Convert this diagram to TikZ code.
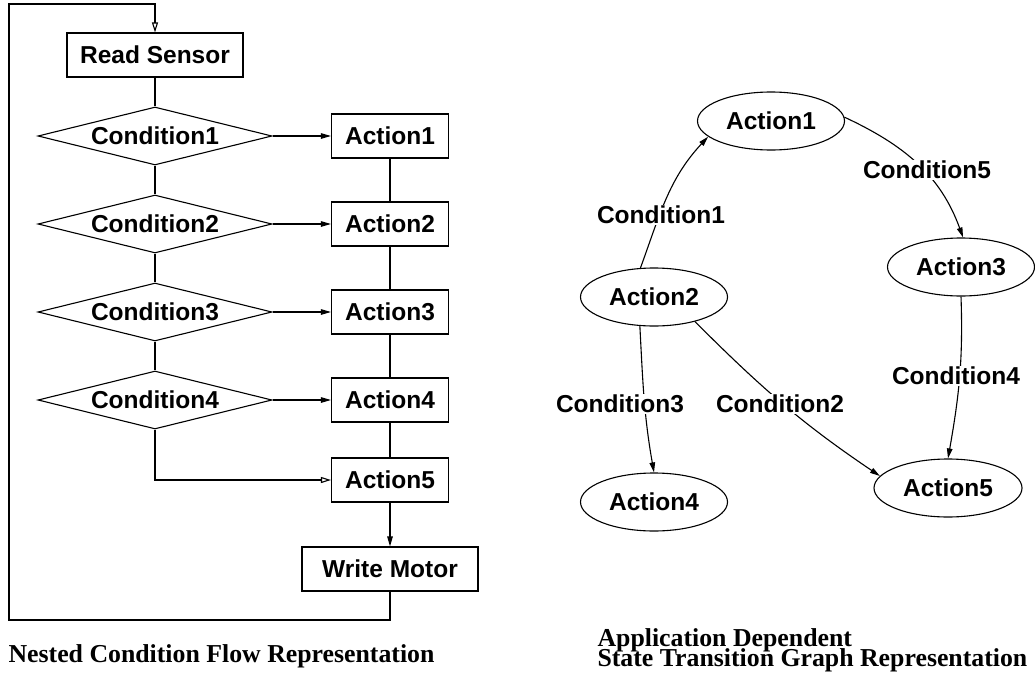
\documentclass[tikz,border=0pt]{standalone}
\usepackage{fontspec}
\setmainfont{Liberation Serif}
\setsansfont{Liberation Sans}
\usetikzlibrary{shapes.geometric,arrows.meta}
\begin{document}
\begin{tikzpicture}[x=1pt,y=1pt,
  line width=1.1pt,
  lbl/.style={font=\sffamily\bfseries\fontsize{24.5}{28}\selectfont},
  box/.style={lbl,draw,rectangle,inner sep=0pt,minimum height=44pt},
  cond/.style={lbl,draw,diamond,aspect=4,inner sep=0pt,minimum width=234pt,minimum height=58pt},
  state/.style={lbl,draw,ellipse,inner sep=0pt,minimum width=147pt,minimum height=58pt},
  tag/.style={lbl,fill=white,inner sep=1pt},
  fillarr/.style={-{Triangle[length=10pt,width=5.5pt]}},
  openarr/.style={-{Triangle[open,length=10pt,width=6pt]}},
  caption/.style={font=\rmfamily\bfseries\fontsize{25.8}{20}\selectfont,inner sep=0pt,anchor=base west}
]
\useasboundingbox (0,0) rectangle (1035,-677);

% ---- nested condition flow ----
\node[box,minimum width=176pt] (rs) at (155,-55) {Read Sensor};
\node[cond] (c1) at (155,-136) {Condition1};
\node[cond] (c2) at (155,-224) {Condition2};
\node[cond] (c3) at (155,-312) {Condition3};
\node[cond] (c4) at (155,-400) {Condition4};
\node[box,minimum width=117pt] (a1) at (390,-136) {Action1};
\node[box,minimum width=117pt] (a2) at (390,-224) {Action2};
\node[box,minimum width=117pt] (a3) at (390,-312) {Action3};
\node[box,minimum width=117pt] (a4) at (390,-400) {Action4};
\node[box,minimum width=117pt] (a5) at (390,-480) {Action5};
\node[box,minimum width=176pt] (wm) at (390,-569) {Write Motor};

\draw (rs) -- (c1);
\draw (c1) -- (c2);
\draw (c2) -- (c3);
\draw (c3) -- (c4);
\draw[fillarr] (c1) -- (a1);
\draw[fillarr] (c2) -- (a2);
\draw[fillarr] (c3) -- (a3);
\draw[fillarr] (c4) -- (a4);
\draw (a1) -- (a2);
\draw (a2) -- (a3);
\draw (a3) -- (a4);
\draw (a4) -- (a5);
\draw[fillarr] (a5) -- (wm);
\draw[openarr] (c4.south) |- (a5.west);

% feedback loop back to the sensor
\coordinate (lb) at (9,-620);
\coordinate (lt) at (9,-4);
\draw[openarr] (wm.south) |- (lb) -- (lt) -| (rs.north);

% ---- state transition graph ----
\node[state] (s1) at (771,-121) {Action1};
\node[state] (s2) at (654,-297) {Action2};
\node[state] (s3) at (961,-267) {Action3};
\node[state] (s4) at (654,-502) {Action4};
\node[state,minimum width=148pt] (s5) at (948,-488) {Action5};

\draw[fillarr] (s2.115) to[out=70,in=227] (s1.194);
\draw[fillarr] (s1.3) to[out=-25,in=110] (s3.86);
\draw[fillarr] (s3.south) to[out=-88,in=80] (s5.north);
\draw[fillarr] (s2.244) to[out=-87,in=100] (s4.north);
\draw[fillarr] (s2.329) to[out=-45,in=146] (s5.170);

\node[tag] (t1) at (661,-215) {Condition1};
\node[tag] (t5) at (927,-170) {Condition5};
\node[tag] (t4) at (956,-376) {Condition4};
\node[tag] (t3) at (620,-404) {Condition3};
\node[tag] (t2) at (780,-404) {Condition2};

% ---- captions ----
\node[caption] (capL) at (8,-662) {Nested Condition Flow Representation};
\node[caption] (capR1) at (597,-646) {Application Dependent};
\node[caption] (capR2) at (597,-666) {State Transition Graph Representation};
\end{tikzpicture}
\end{document}
